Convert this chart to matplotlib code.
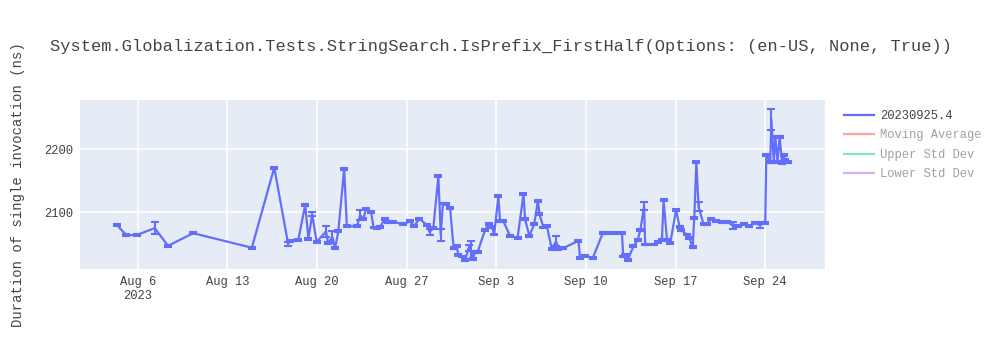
import matplotlib
matplotlib.use("Agg")
import matplotlib.pyplot as plt
from matplotlib.lines import Line2D
import pandas as pd

# run timestamps and mean durations (ns)
times = [
    "2023-08-04 09:00", "2023-08-05 03:00", "2023-08-05 22:00", "2023-08-07 08:00",
    "2023-08-08 09:00", "2023-08-10 08:00", "2023-08-14 22:00", "2023-08-16 16:00",
    "2023-08-17 18:00", "2023-08-17 22:00", "2023-08-18 13:00", "2023-08-19 02:00",
    "2023-08-19 08:00", "2023-08-19 15:00", "2023-08-19 23:30", "2023-08-20 17:00",
    "2023-08-20 21:00", "2023-08-21 05:00", "2023-08-21 10:00", "2023-08-21 16:00",
    "2023-08-22 03:00", "2023-08-22 08:00", "2023-08-23 03:00", "2023-08-23 09:00",
    "2023-08-23 15:00", "2023-08-23 20:00", "2023-08-24 05:30", "2023-08-24 10:00",
    "2023-08-24 16:00", "2023-08-24 22:00", "2023-08-25 08:00", "2023-08-25 14:00",
    "2023-08-25 23:00", "2023-08-26 18:00", "2023-08-27 06:30", "2023-08-27 14:00",
    "2023-08-28 00:00", "2023-08-28 14:00", "2023-08-28 19:00", "2023-08-29 02:00",
    "2023-08-29 11:30", "2023-08-29 16:00", "2023-08-29 20:00", "2023-08-30 02:00",
    "2023-08-30 09:30", "2023-08-30 16:00", "2023-08-30 22:00", "2023-08-31 01:00",
    "2023-08-31 07:30", "2023-08-31 14:00", "2023-08-31 20:00", "2023-09-01 00:30",
    "2023-09-01 03:30", "2023-09-01 08:30", "2023-09-01 13:00", "2023-09-02 03:00",
    "2023-09-02 11:00", "2023-09-02 16:00", "2023-09-02 20:00", "2023-09-03 04:00",
    "2023-09-03 07:00", "2023-09-03 13:30", "2023-09-04 02:00", "2023-09-04 16:00",
    "2023-09-05 03:00", "2023-09-05 06:00", "2023-09-05 14:00", "2023-09-05 23:00",
    "2023-09-06 06:00", "2023-09-06 09:00", "2023-09-06 16:30", "2023-09-06 23:00",
    "2023-09-07 08:00", "2023-09-07 16:00", "2023-09-07 20:30", "2023-09-08 05:00",
    "2023-09-09 10:00", "2023-09-09 13:00", "2023-09-09 23:00", "2023-09-10 13:00",
    "2023-09-11 08:00", "2023-09-11 16:00", "2023-09-12 04:00", "2023-09-12 19:30",
    "2023-09-12 22:00", "2023-09-13 02:00", "2023-09-13 06:00", "2023-09-13 17:00",
    "2023-09-14 01:00", "2023-09-14 06:00", "2023-09-14 13:00", "2023-09-14 15:00",
    "2023-09-14 21:00", "2023-09-15 07:00", "2023-09-15 16:00", "2023-09-15 22:30",
    "2023-09-16 01:30", "2023-09-16 08:00", "2023-09-16 14:00", "2023-09-17 01:00",
    "2023-09-17 07:30", "2023-09-17 10:00", "2023-09-17 21:00", "2023-09-18 01:30",
    "2023-09-18 08:00", "2023-09-18 11:00", "2023-09-18 15:00", "2023-09-18 19:00",
    "2023-09-19 04:30", "2023-09-19 11:00", "2023-09-19 18:30", "2023-09-20 04:30",
    "2023-09-20 15:00", "2023-09-21 01:00", "2023-09-21 11:30", "2023-09-21 21:00",
    "2023-09-22 07:30", "2023-09-22 18:30", "2023-09-23 05:30", "2023-09-23 13:30",
    "2023-09-24 00:00", "2023-09-24 02:00", "2023-09-24 09:30", "2023-09-24 11:30",
    "2023-09-24 16:00", "2023-09-24 19:00", "2023-09-24 23:00", "2023-09-25 03:00",
    "2023-09-25 07:30", "2023-09-25 10:30", "2023-09-25 13:00", "2023-09-25 19:30",
]
durations = [
    2080, 2064, 2064, 2075, 2047, 2067, 2044, 2171,
    2050, 2055, 2056, 2112, 2058, 2097, 2053, 2070,
    2051, 2061, 2043, 2070, 2169, 2078, 2078, 2096,
    2089, 2106, 2100, 2076, 2075, 2077, 2090, 2085,
    2085, 2081, 2086, 2078, 2090, 2080, 2069, 2075,
    2157, 2064, 2114, 2113, 2107, 2044, 2047, 2032,
    2030, 2025, 2043, 2040, 2026, 2037, 2037, 2072,
    2082, 2077, 2065, 2126, 2086, 2086, 2062, 2060,
    2129, 2089, 2063, 2081, 2118, 2097, 2076, 2078,
    2042, 2054, 2042, 2043, 2055, 2027, 2031, 2028,
    2068, 2068, 2068, 2067, 2030, 2033, 2024, 2046,
    2056, 2072, 2110, 2049, 2049, 2049, 2053, 2056,
    2119, 2056, 2051, 2104, 2077, 2072, 2065, 2060,
    2045, 2091, 2180, 2109, 2081, 2081, 2090, 2087,
    2085, 2085, 2079, 2079, 2082, 2079, 2083, 2080,
    2083, 2191, 2180, 2247, 2180, 2220, 2180, 2220,
    2178, 2191, 2183, 2180,
]
# standard deviation per run (mostly tiny)
std_devs = [1.5] * len(durations)
for i, e in {3: 10, 8: 3, 13: 3, 15: 9, 17: 9, 23: 8, 38: 5, 41: 10,
             50: 5, 51: 14, 73: 8, 90: 7, 107: 7, 114: 6, 119: 4, 123: 17}.items():
    std_devs[i] = e

series_name = "20230925.4"
hidden_series = ["Moving Average", "Upper Std Dev", "Lower Std Dev"]
hidden_colors = ["#EF553B", "#00CC96", "#AB63FA"]
title = "System.Globalization.Tests.StringSearch.IsPrefix_FirstHalf(Options: (en-US, None, True))"

mono = "Liberation Mono"
blue = "#636EFA"
text_col = "#444444"

x = pd.to_datetime(times)

fig = plt.figure(figsize=(10, 3.5), dpi=100)
ax = fig.add_axes([0.08, 0.231, 0.745, 0.483])
ax.set_facecolor("#E5ECF6")
for s in ax.spines.values():
    s.set_visible(False)

ax.errorbar(x, durations, yerr=std_devs, color=blue, lw=1.6, elinewidth=1.5,
            capsize=3.2, capthick=1.5, zorder=3)

ax.set_xlim(pd.Timestamp("2023-08-01 12:00"), pd.Timestamp("2023-09-28 16:00"))
ax.set_ylim(2010, 2278)
ax.set_yticks([2100, 2200])
ax.grid(True, color="white", lw=1.1, zorder=0)
ax.set_axisbelow(True)

week_ticks = pd.date_range("2023-08-06", "2023-09-24", freq="7D")
ax.set_xticks(week_ticks)
ax.set_xticklabels([f"{d.strftime('%b')} {d.day}" + ("\n2023" if i == 0 else "")
                    for i, d in enumerate(week_ticks)])
ax.tick_params(length=0, labelsize=8.7, colors=text_col, pad=5)
for lab in ax.get_xticklabels() + ax.get_yticklabels():
    lab.set_family(mono)

ax.set_ylabel("Duration of single invocation (ns)", family=mono, fontsize=10,
              color=text_col)
ax.yaxis.set_label_coords(-0.074, 0.5)

fig.text(0.05, 0.868, title, family=mono, fontsize=12.25, color=text_col, va="center")

handles = [Line2D([], [], color=blue, lw=1.6)]
handles += [Line2D([], [], color=c, lw=1.6, alpha=0.5) for c in hidden_colors]
leg = fig.legend(handles, [series_name] + hidden_series, loc="upper left",
                 bbox_to_anchor=(0.839, 0.70), frameon=False,
                 prop={"family": mono, "size": 8.7}, handlelength=2.5,
                 handletextpad=0.5, labelspacing=0.62, borderaxespad=0)
for i, t in enumerate(leg.get_texts()):
    t.set_color(text_col)
    if i > 0:
        t.set_alpha(0.5)

fig.savefig("out.png", dpi=100)
